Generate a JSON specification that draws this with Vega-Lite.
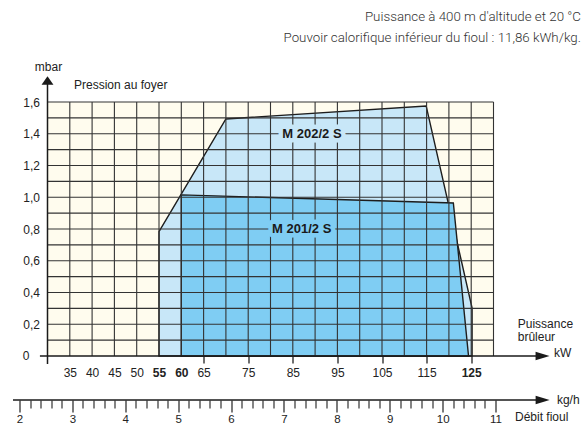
{
  "$schema": "https://vega.github.io/schema/vega-lite/v6.json",
  "width": 446,
  "height": 254,
  "autosize": {"type": "none"},
  "padding": {"left": 47.5, "top": 102, "right": 92.5, "bottom": 69},
  "background": "white",
  "view": {"fill": "#fffcee", "stroke": null},
  "config": {
    "font": "Liberation Sans",
    "axis": {"labelOverlap": false, "labelBound": false, "labelFlush": false}
  },
  "datasets": {
    "poly202": [
      {"x": 55, "y": 0.783},
      {"x": 70, "y": 1.493},
      {"x": 114.9, "y": 1.575},
      {"x": 125.2, "y": 0.302}
    ],
    "poly201": [
      {"x": 60, "y": 1.015},
      {"x": 121, "y": 0.964},
      {"x": 124.4, "y": 0}
    ],
    "vgrid": [
      {"x": 35}, {"x": 40}, {"x": 45}, {"x": 50}, {"x": 55}, {"x": 60}, {"x": 65}, {"x": 70}, {"x": 75}, {"x": 80},
      {"x": 85}, {"x": 90}, {"x": 95}, {"x": 100}, {"x": 105}, {"x": 110}, {"x": 115}, {"x": 120}, {"x": 125}, {"x": 130}
    ],
    "hgrid": [
      {"y": 0.1}, {"y": 0.2}, {"y": 0.3}, {"y": 0.4}, {"y": 0.5}, {"y": 0.6}, {"y": 0.7}, {"y": 0.8},
      {"y": 0.9}, {"y": 1.0}, {"y": 1.1}, {"y": 1.2}, {"y": 1.3}, {"y": 1.4}, {"y": 1.5}, {"y": 1.6}
    ],
    "models": [
      {"label": "M 202/2 S", "x": 89.3, "y": 1.4},
      {"label": "M 201/2 S", "x": 87.0, "y": 0.8}
    ],
    "xaxisline": [{"x": 28.3, "x2": 140.2, "y": 0}],
    "yaxisline": [{"x": 30, "y": -0.05, "y2": 1.72}],
    "xarrow": [{"x": 141.0, "y": 0}],
    "yarrow": [{"x": 30, "y": 1.735}],
    "leftnotes": [
      {"t": "Pression au foyer", "x": 35.94, "y": 1.707},
      {"t": "Puissance", "x": 135.43, "y": 0.2016},
      {"t": "brûleur", "x": 135.43, "y": 0.1216},
      {"t": "kW", "x": 143.57, "y": 0.021}
    ],
    "centernotes": [
      {"t": "mbar", "x": 30.22, "y": 1.82},
      {"t": "0", "x": 25.2, "y": 0}
    ],
    "header": [
      {"t": "Puissance à 400 m d'altitude et 20 °C", "x": 149.6, "y": 2.1355},
      {"t": "Pouvoir calorifique inférieur du fioul : 11,86 kWh/kg.", "x": 149.6, "y": 2.003}
    ],
    "kgline": [{"kf": 1.877, "kt": 11.85, "y": -0.277}],
    "kgarrow": [{"kf": 11.89, "y": -0.277}],
    "kgnotes": [
      {"t": "kg/h", "k": 12.16, "y": -0.277},
      {"t": "Débit fioul", "k": 11.368, "y": -0.384}
    ]
  },
  "resolve": {"scale": {"x": "independent"}, "axis": {"x": "independent"}},
  "layer": [
    {
      "layer": [
        {
          "data": {"name": "poly202"},
          "mark": {"type": "area", "fill": "#c8e7f8", "stroke": "#1d1d1d", "strokeWidth": 1.4, "strokeJoin": "miter"},
          "encoding": {
            "x": {"field": "x", "type": "quantitative", "scale": {"domain": [30, 130], "zero": false, "nice": false}},
            "y": {"field": "y", "type": "quantitative", "scale": {"domain": [0, 1.6], "nice": false}}
          }
        },
        {
          "data": {"name": "poly201"},
          "mark": {"type": "area", "fill": "#7fcdf3", "stroke": "#1d1d1d", "strokeWidth": 1.4, "strokeJoin": "miter"},
          "encoding": {
            "x": {"field": "x", "type": "quantitative", "scale": {"domain": [30, 130], "zero": false, "nice": false}},
            "y": {"field": "y", "type": "quantitative", "scale": {"domain": [0, 1.6], "nice": false}}
          }
        },
        {
          "data": {"name": "vgrid"},
          "mark": {"type": "rule", "stroke": "#333", "strokeWidth": 1.1},
          "encoding": {
            "x": {"field": "x", "type": "quantitative", "scale": {"domain": [30, 130], "zero": false, "nice": false},
              "axis": {
                "orient": "bottom",
                "values": [35, 40, 45, 50, 55, 60, 65, 75, 85, 95, 105, 115, 125],
                "tickCount": 100,
                "format": "d",
                "domain": false, "grid": false, "title": null,
                "tickSize": 7, "tickColor": "#222", "tickWidth": 1.3,
                "tickOpacity": {"condition": {"test": "datum.value >= 65", "value": 1}, "value": 0},
                "labelFontSize": 12, "labelColor": "#222", "labelPadding": 4,
                "labelOverlap": false, "labelFlush": false, "labelBound": false,
                "labelFontWeight": {"condition": {"test": "datum.value == 55 || datum.value == 60 || datum.value == 125", "value": "bold"}, "value": "normal"}
              }
            }
          }
        },
        {
          "data": {"name": "hgrid"},
          "mark": {"type": "rule", "stroke": "#333", "strokeWidth": 1.1},
          "encoding": {
            "y": {"field": "y", "type": "quantitative", "scale": {"domain": [0, 1.6], "nice": false},
              "axis": {
                "values": [0.2, 0.4, 0.6, 0.8, 1.0, 1.2, 1.4, 1.6],
                "tickCount": 100,
                "domain": false, "ticks": false, "grid": false, "title": null,
                "labelPadding": 8,
                "labelFontSize": 12, "labelColor": "#222", "labelOverlap": false, "labelBound": false, "labelFlush": false,
                "labelExpr": "replace(format(datum.value, '.1f'), '.', ',')"
              }
            }
          }
        },
        {
          "data": {"name": "models"},
          "mark": {"type": "text", "fontSize": 13, "fontWeight": "bold", "strokeWidth": 9, "strokeJoin": "round", "align": "center", "baseline": "middle"},
          "encoding": {
            "x": {"field": "x", "type": "quantitative", "scale": {"domain": [30, 130], "zero": false, "nice": false}},
            "y": {"field": "y", "type": "quantitative", "scale": {"domain": [0, 1.6], "nice": false}},
            "text": {"field": "label"},
            "fill": {"field": "label", "type": "nominal", "scale": {"domain": ["M 202/2 S", "M 201/2 S"], "range": ["#c8e7f8", "#7fcdf3"]}, "legend": null},
            "stroke": {"field": "label", "type": "nominal", "scale": {"domain": ["M 202/2 S", "M 201/2 S"], "range": ["#c8e7f8", "#7fcdf3"]}, "legend": null}
          }
        },
        {
          "data": {"name": "models"},
          "mark": {"type": "text", "fontSize": 13, "fontWeight": "bold", "color": "#1a1a1a", "align": "center", "baseline": "middle"},
          "encoding": {
            "x": {"field": "x", "type": "quantitative", "scale": {"domain": [30, 130], "zero": false, "nice": false}},
            "y": {"field": "y", "type": "quantitative", "scale": {"domain": [0, 1.6], "nice": false}},
            "text": {"field": "label"}
          }
        },
        {
          "data": {"name": "xaxisline"},
          "mark": {"type": "rule", "stroke": "#1a1a1a", "strokeWidth": 1.5},
          "encoding": {
            "x": {"field": "x", "type": "quantitative", "scale": {"domain": [30, 130], "zero": false, "nice": false}},
            "x2": {"field": "x2"},
            "y": {"field": "y", "type": "quantitative", "scale": {"domain": [0, 1.6], "nice": false}}
          }
        },
        {
          "data": {"name": "yaxisline"},
          "mark": {"type": "rule", "stroke": "#1a1a1a", "strokeWidth": 1.5},
          "encoding": {
            "x": {"field": "x", "type": "quantitative", "scale": {"domain": [30, 130], "zero": false, "nice": false}},
            "y": {"field": "y", "type": "quantitative", "scale": {"domain": [0, 1.6], "nice": false}},
            "y2": {"field": "y2"}
          }
        },
        {
          "data": {"name": "xarrow"},
          "mark": {"type": "point", "shape": "M-1,-0.6L1,0L-1,0.6Z", "size": 196, "filled": true, "color": "#1a1a1a", "opacity": 1},
          "encoding": {
            "x": {"field": "x", "type": "quantitative", "scale": {"domain": [30, 130], "zero": false, "nice": false}},
            "y": {"field": "y", "type": "quantitative", "scale": {"domain": [0, 1.6], "nice": false}}
          }
        },
        {
          "data": {"name": "yarrow"},
          "mark": {"type": "point", "shape": "M-0.85,0.6L0,-0.6L0.85,0.6Z", "size": 196, "filled": true, "color": "#1a1a1a", "opacity": 1},
          "encoding": {
            "x": {"field": "x", "type": "quantitative", "scale": {"domain": [30, 130], "zero": false, "nice": false}},
            "y": {"field": "y", "type": "quantitative", "scale": {"domain": [0, 1.6], "nice": false}}
          }
        },
        {
          "data": {"name": "leftnotes"},
          "mark": {"type": "text", "fontSize": 12, "color": "#222", "align": "left", "baseline": "middle"},
          "encoding": {
            "x": {"field": "x", "type": "quantitative", "scale": {"domain": [30, 130], "zero": false, "nice": false}},
            "y": {"field": "y", "type": "quantitative", "scale": {"domain": [0, 1.6], "nice": false}},
            "text": {"field": "t"}
          }
        },
        {
          "data": {"name": "centernotes"},
          "mark": {"type": "text", "fontSize": 12, "color": "#222", "align": "center", "baseline": "middle"},
          "encoding": {
            "x": {"field": "x", "type": "quantitative", "scale": {"domain": [30, 130], "zero": false, "nice": false}},
            "y": {"field": "y", "type": "quantitative", "scale": {"domain": [0, 1.6], "nice": false}},
            "text": {"field": "t"}
          }
        },
        {
          "data": {"name": "header"},
          "mark": {"type": "text", "font": "Roboto", "fontWeight": 300, "fontSize": 13.3, "color": "#333", "align": "right", "baseline": "middle"},
          "encoding": {
            "x": {"field": "x", "type": "quantitative", "scale": {"domain": [30, 130], "zero": false, "nice": false}},
            "y": {"field": "y", "type": "quantitative", "scale": {"domain": [0, 1.6], "nice": false}},
            "text": {"field": "t"}
          }
        }
      ]
    },
    {
      "layer": [
        {
          "data": {"name": "kgline"},
          "mark": {"type": "rule", "stroke": "#1a1a1a", "strokeWidth": 1.5},
          "encoding": {
            "x": {"field": "kf", "type": "quantitative", "scale": {"domain": [2, 11], "range": [-28.01, 448.05], "zero": false, "nice": false},
              "axis": {
                "orient": "bottom", "offset": 44,
                "values": [2, 3, 4, 5, 6, 7, 8, 9, 10, 11],
                "tickCount": 100,
                "format": "d",
                "domain": false, "grid": false, "title": null,
                "tickSize": 12, "tickWidth": 1.3, "tickColor": "#333",
                "labelPadding": 1, "labelFontSize": 11.5, "labelColor": "#222",
                "labelOverlap": false, "labelFlush": false, "labelBound": false
              }
            },
            "x2": {"field": "kt"},
            "y": {"field": "y", "type": "quantitative", "scale": {"domain": [0, 1.6], "nice": false}}
          }
        },
        {
          "data": {"name": "kgarrow"},
          "mark": {"type": "point", "shape": "M-1,-0.6L1,0L-1,0.6Z", "size": 196, "filled": true, "color": "#1a1a1a", "opacity": 1},
          "encoding": {
            "x": {"field": "kf", "type": "quantitative", "scale": {"domain": [2, 11], "range": [-28.01, 448.05], "zero": false, "nice": false}},
            "y": {"field": "y", "type": "quantitative", "scale": {"domain": [0, 1.6], "nice": false}}
          }
        }
      ]
    },
    {
      "data": {"name": "kgnotes"},
      "mark": {"type": "text", "fontSize": 12, "color": "#222", "align": "left", "baseline": "middle"},
      "encoding": {
        "x": {"field": "k", "type": "quantitative", "scale": {"domain": [2, 11], "range": [-28.01, 448.05], "zero": false, "nice": false},
          "axis": {
            "orient": "bottom", "offset": 44,
            "values": [2.2, 2.4, 2.6, 2.8, 3.2, 3.4, 3.6, 3.8, 4.2, 4.4, 4.6, 4.8, 5.2, 5.4, 5.6, 5.8, 6.2, 6.4, 6.6, 6.8, 7.2, 7.4, 7.6, 7.8, 8.2, 8.4, 8.6, 8.8, 9.2, 9.4, 9.6, 9.8, 10.2, 10.4, 10.6, 10.8],
            "tickCount": 100,
            "labels": false, "domain": false, "grid": false, "title": null,
            "tickSize": 8, "tickWidth": 1.2, "tickColor": "#333"
          }
        },
        "y": {"field": "y", "type": "quantitative", "scale": {"domain": [0, 1.6], "nice": false}},
        "text": {"field": "t"}
      }
    }
  ]
}
